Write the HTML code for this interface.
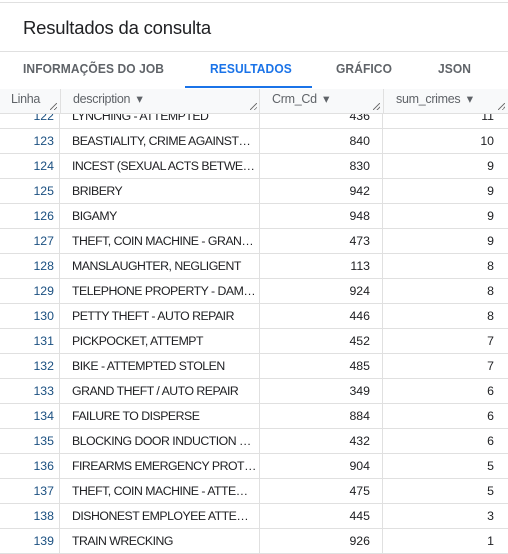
<!DOCTYPE html>
<html><head><meta charset="utf-8"><style>
body{margin:0;width:508px;height:554px;overflow:hidden;background:#fff;font-family:"Liberation Sans",sans-serif;position:relative}
.a{position:absolute}
.row{position:absolute;left:0;width:508px;height:25px;border-bottom:1px solid #e0e0e0;box-sizing:border-box;font-size:12.3px;color:#202124;letter-spacing:-0.5px}
.row div{position:absolute;top:0;line-height:24px;white-space:nowrap}
.num{left:0;width:54px;text-align:right;color:#1a4f80;letter-spacing:0}
.desc{left:72px}
.cd{left:260px;width:110px;text-align:right;letter-spacing:0}
.sc{left:383px;width:111px;text-align:right;letter-spacing:0}
.vl{position:absolute;top:89px;bottom:0;width:1px;background:#e0e0e0}
.hd{position:absolute;top:89px;height:25px;background:#f8f9fa;border-bottom:1px solid #e0e0e0;box-sizing:border-box;font-size:12.5px;color:#5f6368;line-height:20px;letter-spacing:-0.3px}
.rz{position:absolute;right:3px;bottom:3px;width:7px;height:7px;background:linear-gradient(135deg,transparent 45%,#777 45%,#777 55%,transparent 55%,transparent 75%,#777 75%,#777 85%,transparent 85%)}
.tab{position:absolute;top:62px;font-size:12.5px;font-weight:bold;color:#5f6368;letter-spacing:0.1px;transform-origin:left;transform:scaleX(0.96)}
</style></head><body>
<div class="a" style="left:0;top:2px;width:508px;height:1px;background:#e0e0e0"></div>
<div class="a" style="left:23px;top:17px;font-size:18.5px;color:#202124;letter-spacing:-0.2px">Resultados da consulta</div>
<div class="a" style="left:0;top:51px;width:508px;height:1px;background:#e0e0e0"></div>
<div class="tab" style="left:23px">INFORMAÇÕES DO JOB</div>
<div class="tab" style="left:210px;color:#1a73e8">RESULTADOS</div>
<div class="a" style="left:185px;top:86px;width:127px;height:2px;background:#1a73e8"></div>
<div class="tab" style="left:336px">GRÁFICO</div>
<div class="tab" style="left:438px">JSON</div>
<div id="rows"></div>
<div class="hd" style="left:0;width:60px;padding-left:11px">Linha<div class="rz"></div></div>
<div class="hd" style="left:60px;width:200px;padding-left:12px;border-left:1px solid #e0e0e0">description &nbsp;▾<div class="rz"></div></div>
<div class="hd" style="left:259px;width:124px;padding-left:12px;border-left:1px solid #e0e0e0">Crm_Cd &nbsp;▾<div class="rz"></div></div>
<div class="hd" style="left:383px;width:125px;padding-left:12px;border-left:1px solid #e0e0e0">sum_crimes &nbsp;▾<div class="rz"></div></div>
<script>
const rowNums=[122,123,124,125,126,127,128,129,130,131,132,133,134,135,136,137,138,139];
const descs=["LYNCHING - ATTEMPTED","BEASTIALITY, CRIME AGAINST…","INCEST (SEXUAL ACTS BETWE…","BRIBERY","BIGAMY","THEFT, COIN MACHINE - GRAN…","MANSLAUGHTER, NEGLIGENT","TELEPHONE PROPERTY - DAM…","PETTY THEFT - AUTO REPAIR","PICKPOCKET, ATTEMPT","BIKE - ATTEMPTED STOLEN","GRAND THEFT / AUTO REPAIR","FAILURE TO DISPERSE","BLOCKING DOOR INDUCTION …","FIREARMS EMERGENCY PROT…","THEFT, COIN MACHINE - ATTE…","DISHONEST EMPLOYEE ATTE…","TRAIN WRECKING"];
const codes=[436,840,830,942,948,473,113,924,446,452,485,349,884,432,904,475,445,926];
const sums=[11,10,9,9,9,9,8,8,8,7,7,6,6,6,5,5,3,1];
const c=document.getElementById('rows');
[60,260,383].forEach(x=>{const v=document.createElement('div');v.className='vl';v.style.left=(x-1)+'px';


c.appendChild(v);});
rowNums.forEach((n,i)=>{
const r=document.createElement('div');r.className='row';r.style.top=(104+i*25)+'px';


r.innerHTML='<div class="num">'+n+'</div><div class="desc">'+descs[i]+'</div><div class="cd">'+codes[i]+'</div><div class="sc">'+sums[i]+'</div>';
c.appendChild(r);});
</script>
</body></html>
